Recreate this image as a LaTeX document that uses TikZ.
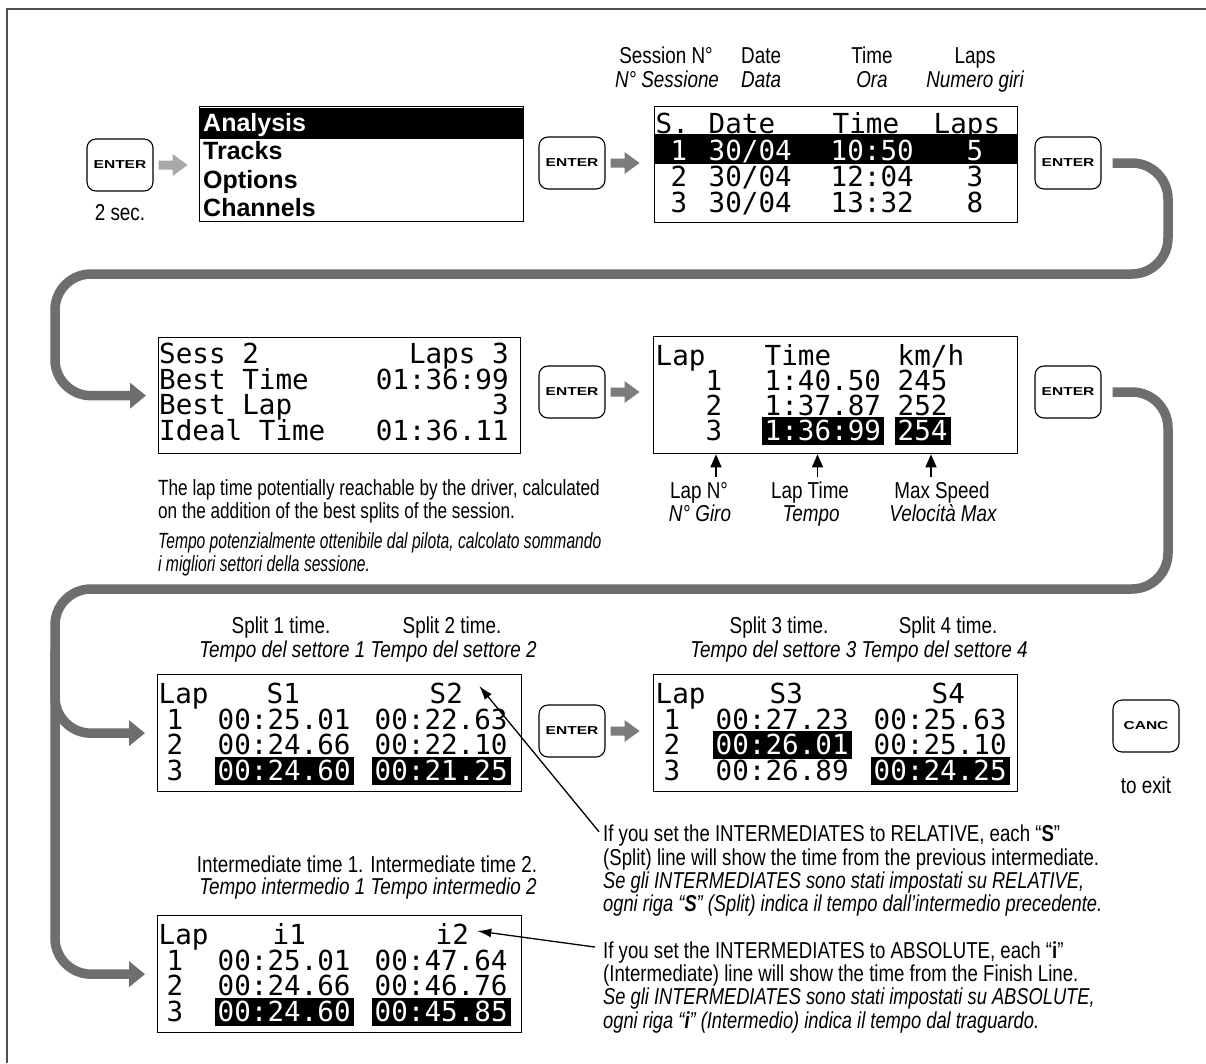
\documentclass[tikz,border=0pt]{standalone}
\usepackage{fontspec}
\setmainfont{Liberation Sans}
\newfontfamily\labfont[FakeStretch=0.82]{Liberation Sans}
\newfontfamily\notefont[FakeStretch=0.81]{Liberation Sans}
\newfontfamily\noteifont[FakeStretch=0.795]{Liberation Sans}
\newfontfamily\descfont[FakeStretch=0.78]{Liberation Sans}
\newfontfamily\descifont[FakeStretch=0.71]{Liberation Sans}
\newfontfamily\lcdfont{DejaVu Sans Mono}
\newfontfamily\keyfont[FakeStretch=1.35]{Liberation Sans}
\usetikzlibrary{arrows.meta}
\definecolor{conn}{HTML}{6E6E6E}
\definecolor{lightarr}{HTML}{A8A8A8}
\definecolor{midarr}{HTML}{7C7C7C}
\definecolor{framec}{HTML}{505050}
\newcommand\fld[2]{\rlap{\hspace*{#1pt}#2}}
\newcommand\hl[1]{\hspace*{-3pt}{\setlength{\fboxsep}{0pt}\colorbox{black}{\hspace*{3pt}\rule[-4.5pt]{0pt}{28pt}\textcolor{white}{#1}\hspace*{3pt}}}}
% block arrow starting 5pt right of a node's east anchor
\newcommand\blockarrow[2]{\fill[#1] ([xshift=5pt,yshift=4.5pt]#2.east) -- ++(14,0) -- ++(0,-6.5) -- ++(15,11) -- ++(-15,11) -- ++(0,-6.5) -- ++(-14,0) -- cycle;}
\begin{document}
\begin{tikzpicture}[x=1pt,y=-1pt,
  keybtn/.style={draw,line width=1.1pt,rounded corners=9pt,minimum width=66pt,minimum height=52pt,inner sep=0pt,font=\keyfont\bfseries\fontsize{11.5}{12}\selectfont},
  lcdbox/.style={draw,line width=1.3pt,anchor=north west,inner sep=0pt,minimum width=364pt,minimum height=117pt},
  lcd/.style={anchor=base west,inner sep=0pt,font=\lcdfont\fontsize{27.6}{28}\selectfont},
  mitem/.style={anchor=base west,inner sep=0pt,font=\bfseries\fontsize{25}{26}\selectfont},
  lab/.style={anchor=base,inner sep=0pt,font=\labfont\fontsize{23}{26}\selectfont},
  labi/.style={anchor=base,inner sep=0pt,font=\labfont\itshape\fontsize{23}{26}\selectfont},
  note/.style={anchor=base west,inner sep=0pt,font=\notefont\fontsize{23}{26}\selectfont},
  notei/.style={anchor=base west,inner sep=0pt,font=\noteifont\itshape\fontsize{23}{26}\selectfont},
  desc/.style={anchor=base west,inner sep=0pt,font=\descfont\fontsize{22}{24}\selectfont},
  desci/.style={anchor=base west,inner sep=0pt,font=\descifont\itshape\fontsize{22}{24}\selectfont},
  flow/.style={draw=conn,line width=9.5pt,rounded corners=36pt,-{Triangle[length=16pt,width=25pt]}},
  ann/.style={line width=1.3pt,-{Latex[length=14pt,width=9pt]}},
  annup/.style={line width=1.5pt,-{Triangle[length=13pt,width=11pt]}},
]
\useasboundingbox (0,0) rectangle (1206,1063);
\fill[white] (0,0) rectangle (1206,1063);
\draw[framec,line width=1.5pt] (7,1063) -- (7,9) -- (1206,9);

% ---------- keys ----------
\node[keybtn] (k1) at (120,165) {ENTER};
\node[keybtn] (k2) at (572,163) {ENTER};
\node[keybtn] (k3) at (1068,163) {ENTER};
\node[keybtn] (k4) at (572,392) {ENTER};
\node[keybtn] (k5) at (1068,392) {ENTER};
\node[keybtn] (k6) at (572,731) {ENTER};
\node[keybtn] (canc) at (1146,726) {CANC};
\node[lab] (twosec) at (120,220) {2 sec.};
\node[lab] (toexit) at (1146,793) {to exit};

% ---------- menu ----------
\node[lcdbox,minimum width=324pt,minimum height=115pt] (menu) at (199,106) {};
\fill[black] ([yshift=-1.5pt]menu.north west) rectangle ([yshift=-33pt]menu.north east);
\node[mitem,text=white] (m1) at (203,131) {Analysis};
\node[mitem] (m2) at (203,159.5) {Tracks};
\node[mitem] (m3) at (203,188) {Options};
\node[mitem] (m4) at (203,216.5) {Channels};

% ---------- sessions ----------
\node[lab] (hs1) at (666,63) {Session N°};
\node[labi] (hs2) at (667,87) {N° Sessione};
\node[note,font=\labfont\fontsize{23}{26}\selectfont] (hd1) at (741,63) {Date};
\node[note,font=\labfont\itshape\fontsize{23}{26}\selectfont] (hd2) at (741,87) {Data};
\node[lab] (ht1) at (872,63) {Time};
\node[labi] (ht2) at (872,87) {Ora};
\node[lab] (hl1) at (975,63) {Laps};
\node[labi] (hl2) at (975,87) {Numero giri};
\node[lcdbox,minimum width=363pt,minimum height=116pt] (ses) at (654,106) {};
\fill[black] ([yshift=-28pt]ses.north west) rectangle ([yshift=-58pt]ses.north east);
\node[lcd] (ses0) at (655,133) {\fld{0}{S.}\fld{53}{Date}\fld{177}{Time}\fld{278}{Laps}};
\node[lcd,text=white] (ses1) at (655,160) {\fld{15}{1}\fld{53}{30/04}\fld{175}{10:50}\fld{311}{5}};
\node[lcd] (ses2) at (655,186) {\fld{15}{2}\fld{53}{30/04}\fld{175}{12:04}\fld{311}{3}};
\node[lcd] (ses3) at (655,212) {\fld{15}{3}\fld{53}{30/04}\fld{175}{13:32}\fld{311}{8}};

% ---------- session stats ----------
\node[lcdbox,minimum width=362pt,minimum height=116pt] (stat) at (158,337) {};
\node[lcd] (st0) at (159,363) {\makebox[349.5pt][l]{Sess 2\hfill Laps 3}};
\node[lcd] (st1) at (159,389) {\makebox[349.5pt][l]{Best Time\hfill 01:36:99}};
\node[lcd] (st2) at (159,414) {\makebox[349.5pt][l]{Best Lap\hfill 3}};
\node[lcd] (st3) at (159,440) {\makebox[349.5pt][l]{Ideal Time\hfill 01:36.11}};
\node[desc] (d1) at (158,495) {The lap time potentially reachable by the driver, calculated};
\node[desc] (d2) at (158,518) {on the addition of the best splits of the session.};
\node[desci] (d3) at (158,548) {Tempo potenzialmente ottenibile dal pilota, calcolato sommando};
\node[desci] (d4) at (158,571) {i migliori settori della sessione.};

% ---------- laps ----------
\node[lcdbox] (lap) at (653,336) {};
\node[lcd] (lp0) at (655,365) {\fld{0}{Lap}\fld{109}{Time}\fld{242}{km/h}};
\node[lcd] (lp1) at (655,390) {\fld{50}{1}\fld{109}{1:40.50}\fld{242}{245}};
\node[lcd] (lp2) at (655,415) {\fld{50}{2}\fld{109}{1:37.87}\fld{242}{252}};
\node[lcd] (lp3) at (655,440) {\fld{50}{3}\fld{109}{\hl{1:36:99}}\fld{242}{\hl{254}}};
\node[lab] (lapn1) at (699,498) {Lap N°};
\node[labi] (lapn2) at (700,521) {N° Giro};
\node[lab] (lapt1) at (810,498) {Lap Time};
\node[labi] (lapt2) at (811,521) {Tempo};
\node[lab] (lapv1) at (942,498) {Max Speed};
\node[labi] (lapv2) at (943,521) {Velocità Max};
\coordinate (ua) at ([xshift=17pt,yshift=4.5pt]lapn1.north);
\coordinate (ub) at ([xshift=7.5pt,yshift=4.5pt]lapt1.north);
\coordinate (uc) at ([xshift=-11pt,yshift=4.5pt]lapv1.north);
\draw[annup] (ua) -- (ua |- lap.south);
\draw[annup] (ub) -- (ub |- lap.south);
\draw[annup] (uc) -- (uc |- lap.south);

% ---------- splits 1-2 ----------
\node[lab] (sp1a) at (281,633) {Split 1 time.};
\node[lab] (sp1b) at (452,633) {Split 2 time.};
\node[labi] (sp1c) at (368,657) {Tempo del settore 1 Tempo del settore 2};
\node[lcdbox] (sp1) at (157,674) {};
\node[lcd] (sa0) at (158,703) {\fld{0}{Lap}\fld{108}{S1}\fld{271}{S2}};
\node[lcd] (sa1) at (158,729) {\fld{8}{1}\fld{59}{00:25.01}\fld{216}{00:22.63}};
\node[lcd] (sa2) at (158,754.5) {\fld{8}{2}\fld{59}{00:24.66}\fld{216}{00:22.10}};
\node[lcd] (sa3) at (158,780) {\fld{8}{3}\fld{59}{\hl{00:24.60}}\fld{216}{\hl{00:21.25}}};

% ---------- splits 3-4 ----------
\node[lab] (sp2a) at (779,633) {Split 3 time.};
\node[lab] (sp2b) at (948,633) {Split 4 time.};
\node[labi] (sp2c) at (859,657) {Tempo del settore 3 Tempo del settore 4};
\node[lcdbox] (sp2) at (653,674) {};
\node[lcd] (sb0) at (655,703) {\fld{0}{Lap}\fld{114}{S3}\fld{276}{S4}};
\node[lcd] (sb1) at (655,729) {\fld{8}{1}\fld{60}{00:27.23}\fld{218}{00:25.63}};
\node[lcd] (sb2) at (655,754.5) {\fld{8}{2}\fld{60}{\hl{00:26.01}}\fld{218}{00:25.10}};
\node[lcd] (sb3) at (655,780) {\fld{8}{3}\fld{60}{00:26.89}\fld{218}{\hl{00:24.25}}};

% ---------- intermediates ----------
\node[lab] (ina) at (367,872) {Intermediate time 1. Intermediate time 2.};
\node[labi] (inb) at (368,894) {Tempo intermedio 1 Tempo intermedio 2};
\node[lcdbox] (inter) at (157,915) {};
\node[lcd] (ia0) at (158,944) {\fld{0}{Lap}\fld{114}{i1}\fld{277}{i2}};
\node[lcd] (ia1) at (158,970) {\fld{8}{1}\fld{59}{00:25.01}\fld{216}{00:47.64}};
\node[lcd] (ia2) at (158,995.5) {\fld{8}{2}\fld{59}{00:24.66}\fld{216}{00:46.76}};
\node[lcd] (ia3) at (158,1021) {\fld{8}{3}\fld{59}{\hl{00:24.60}}\fld{216}{\hl{00:45.85}}};

% ---------- notes ----------
\node[note] (rel1) at (603,841.7) {If you set the INTERMEDIATES to RELATIVE, each “\textbf{S}”};
\node[note] (rel2) at (603,865) {(Split) line will show the time from the previous intermediate.};
\node[notei] (rel3) at (603,888.3) {Se gli INTERMEDIATES sono stati impostati su RELATIVE,};
\node[notei] (rel4) at (603,911.7) {ogni riga “\textbf{S}” (Split) indica il tempo dall’intermedio precedente.};
\node[note] (abs1) at (603,958) {If you set the INTERMEDIATES to ABSOLUTE, each “\textbf{i}”};
\node[note] (abs2) at (603,981.3) {(Intermediate) line will show the time from the Finish Line.};
\node[notei] (abs3) at (603,1004.7) {Se gli INTERMEDIATES sono stati impostati su ABSOLUTE,};
\node[notei] (abs4) at (603,1028) {ogni riga “\textbf{i}” (Intermedio) indica il tempo dal traguardo.};
\draw[ann] ([xshift=-4pt,yshift=4pt]rel1.west) -- ([xshift=-43pt,yshift=-12pt]sp1.north east);
\draw[ann] ([xshift=-8pt,yshift=5pt]abs1.west) -- ([xshift=-45pt,yshift=-16pt]inter.north east);

% ---------- small block arrows (key -> screen) ----------
\blockarrow{lightarr}{k1}
\blockarrow{midarr}{k2}
\blockarrow{midarr}{k4}
\blockarrow{midarr}{k6}

% ---------- flow connectors ----------
\coordinate (lx) at (55,0);
\coordinate (br) at (55,650);
\draw[flow] ([xshift=11pt]k3.east) -| (1168,274) -| (stat.west -| lx) -- ([xshift=-12pt]stat.west);
\draw[flow] ([xshift=11pt]k5.east) -| (1168,589) -| (sp1.west -| lx) -- ([xshift=-12pt]sp1.west);
\draw[flow] (br) |- ([xshift=-12pt]inter.west);
\end{tikzpicture}
\end{document}
